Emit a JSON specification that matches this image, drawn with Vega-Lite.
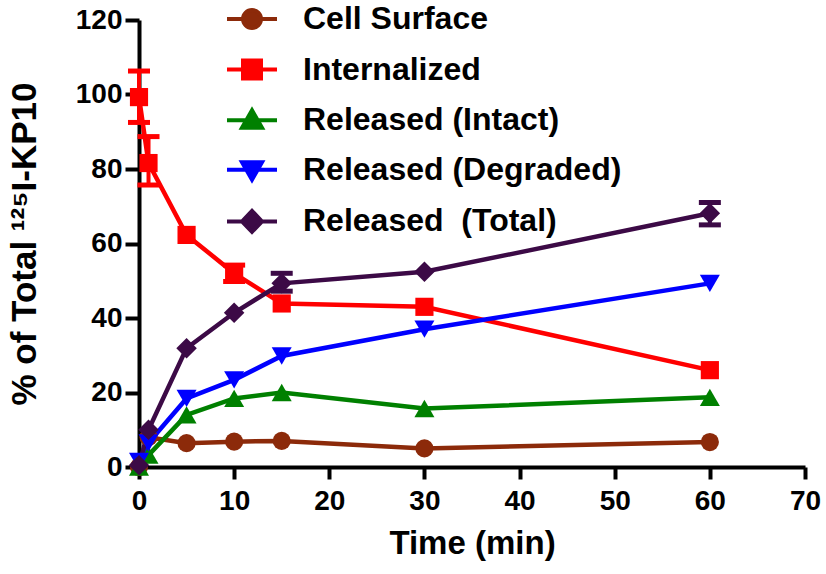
{
  "$schema": "https://vega.github.io/schema/vega-lite/v6.json",
  "width": 666,
  "height": 447,
  "autosize": {"type": "none"},
  "padding": {"left": 139, "top": 20, "right": 21, "bottom": 107},
  "background": "white",
  "config": {
    "view": {"stroke": null},
    "font": "Liberation Sans",
    "axis": {
      "grid": false,
      "domainColor": "black",
      "domainWidth": 4,
      "tickColor": "black",
      "tickWidth": 4,
      "labelFlush": false,
      "labelFont": "Liberation Sans",
      "labelFontWeight": "bold",
      "labelFontSize": 28,
      "labelColor": "black",
      "titleFont": "Liberation Sans",
      "titleFontWeight": "bold",
      "titleFontSize": 33,
      "titleColor": "black"
    },
    "legend": {
      "padding": 0,
      "symbolSize": 2500,
      "symbolOpacity": 1,
      "symbolStrokeWidth": 4,
      "labelFont": "Liberation Sans",
      "labelFontWeight": "bold",
      "labelFontSize": 32,
      "labelColor": "black",
      "labelOffset": 24,
      "labelLimit": 0,
      "rowPadding": 6.6
    }
  },
  "datasets": {
    "pts": [
      {"series": "Cell Surface", "time": 0, "value": 0},
      {"series": "Cell Surface", "time": 1, "value": 8},
      {"series": "Cell Surface", "time": 5, "value": 6.4},
      {"series": "Cell Surface", "time": 10, "value": 6.8},
      {"series": "Cell Surface", "time": 15, "value": 7.0},
      {"series": "Cell Surface", "time": 30, "value": 5.0},
      {"series": "Cell Surface", "time": 60, "value": 6.7},
      {"series": "Internalized", "time": 0, "value": 99.3},
      {"series": "Internalized", "time": 1, "value": 81.6},
      {"series": "Internalized", "time": 5, "value": 62.3},
      {"series": "Internalized", "time": 10, "value": 52},
      {"series": "Internalized", "time": 15, "value": 43.9},
      {"series": "Internalized", "time": 30, "value": 43},
      {"series": "Internalized", "time": 60, "value": 26},
      {"series": "Released (Intact)", "time": 0, "value": 0},
      {"series": "Released (Intact)", "time": 1, "value": 3.2},
      {"series": "Released (Intact)", "time": 5, "value": 14},
      {"series": "Released (Intact)", "time": 10, "value": 18.4},
      {"series": "Released (Intact)", "time": 15, "value": 20},
      {"series": "Released (Intact)", "time": 30, "value": 15.7},
      {"series": "Released (Intact)", "time": 60, "value": 18.7},
      {"series": "Released (Degraded)", "time": 0, "value": 1.5},
      {"series": "Released (Degraded)", "time": 1, "value": 6.5},
      {"series": "Released (Degraded)", "time": 5, "value": 18.4},
      {"series": "Released (Degraded)", "time": 10, "value": 23.4},
      {"series": "Released (Degraded)", "time": 15, "value": 29.8},
      {"series": "Released (Degraded)", "time": 30, "value": 37},
      {"series": "Released (Degraded)", "time": 60, "value": 49.3},
      {"series": "Released \u00a0(Total)", "time": 0, "value": 0.5},
      {"series": "Released \u00a0(Total)", "time": 1, "value": 10},
      {"series": "Released \u00a0(Total)", "time": 5, "value": 31.9},
      {"series": "Released \u00a0(Total)", "time": 10, "value": 41.4},
      {"series": "Released \u00a0(Total)", "time": 15, "value": 49.3},
      {"series": "Released \u00a0(Total)", "time": 30, "value": 52.4},
      {"series": "Released \u00a0(Total)", "time": 60, "value": 68.1}
    ],
    "errs": [
      {"series": "Internalized", "time": 0, "lo": 92.5, "hi": 106.3},
      {"series": "Internalized", "time": 1, "lo": 75.7, "hi": 88.7},
      {"series": "Internalized", "time": 10, "lo": 49.8, "hi": 54.2},
      {"series": "Released \u00a0(Total)", "time": 15, "lo": 47.2, "hi": 52},
      {"series": "Released \u00a0(Total)", "time": 60, "lo": 65, "hi": 71}
    ]
  },
  "layer": [
    {
      "data": {"name": "pts"},
      "mark": {"type": "line", "strokeWidth": 4.5, "clip": false},
      "encoding": {
        "x": {"field": "time", "type": "quantitative", "scale": {"domain": [0, 70], "nice": false},
          "title": "Time (min)",
          "axis": {"values": [0, 10, 20, 30, 40, 50, 60, 70], "tickSize": 12, "labelPadding": 8, "titlePadding": 12}},
        "y": {"field": "value", "type": "quantitative", "scale": {"domain": [0, 120], "nice": false},
          "title": "% of Total ¹²⁵I-KP10",
          "axis": {"values": [0, 20, 40, 60, 80, 100, 120], "tickSize": 14, "labelPadding": 3, "titlePadding": 33, "titleFontSize": 35}},
        "stroke": {"field": "series", "type": "nominal",
          "scale": {"domain": ["Cell Surface", "Internalized", "Released (Intact)", "Released (Degraded)", "Released \u00a0(Total)"],
                    "range": ["#8C2A0A", "#FF0000", "#008000", "#0000FF", "#3C0A46"]},
          "legend": {"title": null, "orient": "none", "legendX": 86, "legendY": -28}}
      }
    },
    {
      "data": {"name": "errs"},
      "mark": {"type": "errorbar", "thickness": 4, "opacity": 1, "ticks": {"size": 22, "thickness": 5, "opacity": 1}, "rule": {"opacity": 1}, "clip": false},
      "encoding": {
        "x": {"field": "time", "type": "quantitative", "title": "Time (min)"},
        "y": {"field": "lo", "type": "quantitative", "title": "% of Total ¹²⁵I-KP10"},
        "y2": {"field": "hi"},
        "color": {"field": "series", "type": "nominal", "legend": null,
          "scale": {"domain": ["Cell Surface", "Internalized", "Released (Intact)", "Released (Degraded)", "Released \u00a0(Total)"],
                    "range": ["#8C2A0A", "#FF0000", "#008000", "#0000FF", "#3C0A46"]}}
      }
    },
    {
      "data": {"name": "pts"},
      "transform": [{"filter": "datum.series === 'Cell Surface'"}],
      "mark": {"type": "point", "filled": true, "opacity": 1, "shape": "circle", "size": 330, "color": "#8C2A0A", "clip": false},
      "encoding": {
        "x": {"field": "time", "type": "quantitative", "title": "Time (min)"},
        "y": {"field": "value", "type": "quantitative", "title": "% of Total ¹²⁵I-KP10"}
      }
    },
    {
      "data": {"name": "pts"},
      "transform": [{"filter": "datum.series === 'Internalized'"}],
      "mark": {"type": "point", "filled": true, "opacity": 1, "shape": "square", "size": 330, "color": "#FF0000", "clip": false},
      "encoding": {
        "x": {"field": "time", "type": "quantitative", "title": "Time (min)"},
        "y": {"field": "value", "type": "quantitative", "title": "% of Total ¹²⁵I-KP10"}
      }
    },
    {
      "data": {"name": "pts"},
      "transform": [{"filter": "datum.series === 'Released (Intact)'"}],
      "mark": {"type": "point", "filled": true, "opacity": 1, "shape": "triangle-up", "size": 400, "color": "#008000", "clip": false},
      "encoding": {
        "x": {"field": "time", "type": "quantitative", "title": "Time (min)"},
        "y": {"field": "value", "type": "quantitative", "title": "% of Total ¹²⁵I-KP10"}
      }
    },
    {
      "data": {"name": "pts"},
      "transform": [{"filter": "datum.series === 'Released (Degraded)'"}],
      "mark": {"type": "point", "filled": true, "opacity": 1, "shape": "triangle-down", "size": 400, "color": "#0000FF", "clip": false},
      "encoding": {
        "x": {"field": "time", "type": "quantitative", "title": "Time (min)"},
        "y": {"field": "value", "type": "quantitative", "title": "% of Total ¹²⁵I-KP10"}
      }
    },
    {
      "data": {"name": "pts"},
      "transform": [{"filter": "datum.series === 'Released \u00a0(Total)'"}],
      "mark": {"type": "point", "filled": true, "opacity": 1, "shape": "diamond", "size": 420, "color": "#3C0A46", "clip": false},
      "encoding": {
        "x": {"field": "time", "type": "quantitative", "title": "Time (min)"},
        "y": {"field": "value", "type": "quantitative", "title": "% of Total ¹²⁵I-KP10"}
      }
    },
    {
      "data": {"name": "pts"},
      "mark": {"type": "point", "filled": true, "opacity": 0, "strokeWidth": 4, "clip": false},
      "encoding": {
        "x": {"field": "time", "type": "quantitative", "title": "Time (min)"},
        "y": {"field": "value", "type": "quantitative", "title": "% of Total ¹²⁵I-KP10"},
        "fill": {"field": "series", "type": "nominal",
          "scale": {"domain": ["Cell Surface", "Internalized", "Released (Intact)", "Released (Degraded)", "Released \u00a0(Total)"],
                    "range": ["#8C2A0A", "#FF0000", "#008000", "#0000FF", "#3C0A46"]},
          "legend": {"title": null, "orient": "none", "legendX": 86, "legendY": -28}},
        "stroke": {"field": "series", "type": "nominal",
          "legend": {"title": null, "orient": "none", "legendX": 86, "legendY": -28}},
        "shape": {"field": "series", "type": "nominal",
          "scale": {"domain": ["Cell Surface", "Internalized", "Released (Intact)", "Released (Degraded)", "Released \u00a0(Total)"],
                    "range": [
                      "M-1,0H1M0.36,0A0.36,0.36 0 1,1 -0.36,0A0.36,0.36 0 1,1 0.36,0Z",
                      "M-1,0H1M-0.36,-0.36H0.36V0.36H-0.36Z",
                      "M-1,0H1M0,-0.4L0.4,0.3L-0.4,0.3Z",
                      "M-1,0H1M0,0.4L0.4,-0.3L-0.4,-0.3Z",
                      "M-1,0H1M0,-0.42L0.4,0L0,0.42L-0.4,0Z"
                    ]},
          "legend": {"title": null, "orient": "none", "legendX": 86, "legendY": -28}},
        "size": {"value": 2500}
      }
    }
  ]
}
